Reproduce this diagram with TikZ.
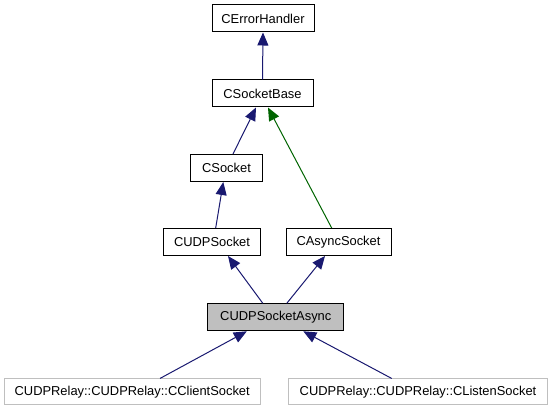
\documentclass[tikz,border=0pt]{standalone}
\usepackage{fontspec}
\setmainfont{Liberation Sans}
\usetikzlibrary{arrows.meta}
\definecolor{edgeblue}{HTML}{191970}
\definecolor{edgegreen}{HTML}{006400}
\definecolor{boxgray}{HTML}{BFBFBF}
\tikzset{
  cls/.style={draw=black, line width=1pt, fill=white, minimum height=27pt, inner sep=0pt,
    font=\fontsize{12.9}{15}\selectfont},
  focus/.style={cls, fill=boxgray},
  ext/.style={cls, draw=boxgray, minimum height=25.5pt},
  inherit/.style={draw=edgeblue, line width=1pt, -{Triangle[length=13pt,width=11pt,fill=edgeblue]}},
  protinherit/.style={draw=edgegreen, line width=1pt, -{Triangle[length=13pt,width=11pt,fill=edgegreen]}}
}
\begin{document}
\begin{tikzpicture}[x=1pt,y=-1pt]
\useasboundingbox (0,0) rectangle (552,411);
\node[cls, minimum width=102pt] (err) at (263,18.5) {CErrorHandler};
\node[cls, minimum width=101pt] (base) at (262.5,93.5) {CSocketBase};
\node[cls, minimum width=72.4pt] (sock) at (226.5,168) {CSocket};
\node[cls, minimum width=97.4pt] (udp) at (212,242) {CUDPSocket};
\node[cls, minimum width=105pt] (async) at (338.5,242) {CAsyncSocket};
\node[focus, minimum width=136.3pt] (udpasync) at (275.8,317.3) {CUDPSocketAsync};
\node[ext, minimum width=255.7pt] (client) at (132.2,391.7) {CUDPRelay::CUDPRelay::CClientSocket};
\node[ext, minimum width=259.4pt] (listen) at (418,391.7) {CUDPRelay::CUDPRelay::CListenSocket};

\draw[inherit] (base.north) -- (err.south);
\draw[inherit] ([xshift=6.5pt]sock.north) -- ([xshift=-6.5pt]base.south);
\draw[protinherit] ([xshift=-6.8pt]async.north) -- ([xshift=5.5pt]base.south);
\draw[inherit] ([xshift=3.7pt]udp.north) -- ([xshift=-3.2pt]sock.south);
\draw[inherit] ([xshift=-13pt]udpasync.north) -- ([xshift=16pt]udp.south);
\draw[inherit] ([xshift=11pt]udpasync.north) -- ([xshift=-13.5pt]async.south);
\draw[inherit] ([xshift=27.8pt]client.north) -- ([xshift=-29pt]udpasync.south);
\draw[inherit] ([xshift=-26.3pt]listen.north) -- ([xshift=27.5pt]udpasync.south);
\end{tikzpicture}
\end{document}
